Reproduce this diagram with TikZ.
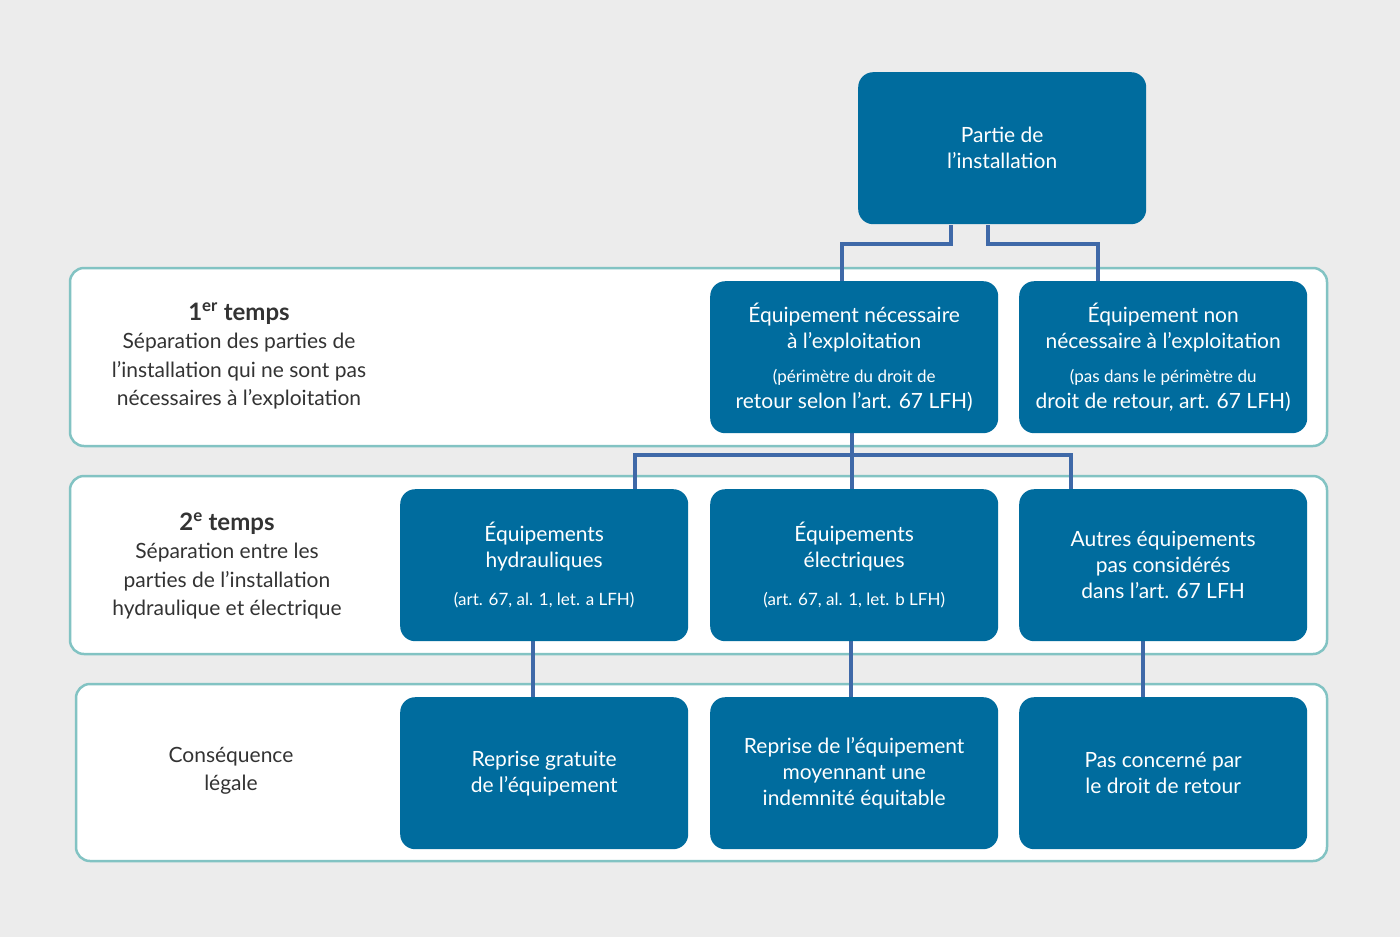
\documentclass[tikz,border=0pt]{standalone}
\usepackage{fontspec}
\setmainfont{Lato}
\begin{document}
\begin{tikzpicture}[x=1pt,y=-1pt,
  panel/.style={line width=2.5pt, fill=white, rounded corners=14pt},
  box/.style={fill=boxblue, rounded corners=15pt, minimum width=288pt, minimum height=152pt, anchor=north west, inner sep=0pt, text=white, align=center, font=\fontsize{21}{26}\selectfont},
  conn/.style={draw=connblue, line width=4pt},
  lbl/.style={align=center, text=black!80, font=\fontsize{21}{28.5}\selectfont}]
\definecolor{boxblue}{HTML}{006C9E}
\definecolor{connblue}{HTML}{3F69A8}
\definecolor{bg}{HTML}{ECECEC}
\definecolor{pborder}{HTML}{82C3C3}
\useasboundingbox[fill=bg] (0,0) rectangle (1400,937);
\draw[panel,draw=pborder] (70,268) rectangle (1327,446);
\draw[panel,draw=pborder] (70,476) rectangle (1327,654);
\draw[panel,draw=pborder] (76,684) rectangle (1327,861);
% connectors
\coordinate (t1) at (951,225); \coordinate (t2) at (988,225);
\coordinate (r1a) at (842,281); \coordinate (r1b) at (1098,281);
\draw[conn] (t1) |- (842,244) -- (r1a);
\draw[conn] (t2) |- (1098,244) -- (r1b);
\coordinate (m1) at (852,433);
\draw[conn] (m1) -- (852,489);
\draw[conn] (635,489) -- (635,455) -- (1071,455) -- (1071,489);
\coordinate (a1) at (533,641); \coordinate (a2) at (533,697);
\coordinate (b1) at (851,641); \coordinate (b2) at (851,697);
\coordinate (c1) at (1143,641); \coordinate (c2) at (1143,697);
\draw[conn] (a1) -- (a2); \draw[conn] (b1) -- (b2); \draw[conn] (c1) -- (c2);
% boxes
\node[box] (top) at (858,72) {Partie de\\l’installation};
\node[box] (e1) at (710,281) {Équipement nécessaire\\à l’exploitation\\[8pt]\fontsize{17}{22}\selectfont(périmètre du droit de\\retour selon l’art. 67 LFH)};
\node[box] (e2) at (1019,281) {Équipement non\\nécessaire à l’exploitation\\[8pt]\fontsize{17}{22}\selectfont(pas dans le périmètre du\\droit de retour, art. 67 LFH)};
\node[box] (h) at (400,489) {Équipements\\hydrauliques\\[12pt]\fontsize{17}{22}\selectfont(art. 67, al. 1, let. a LFH)};
\node[box] (el) at (710,489) {Équipements\\électriques\\[12pt]\fontsize{17}{22}\selectfont(art. 67, al. 1, let. b LFH)};
\node[box] (au) at (1019,489) {Autres équipements\\pas considérés\\dans l’art. 67 LFH};
\node[box] (c1n) at (400,697) {Reprise gratuite\\de l’équipement};
\node[box] (c2n) at (710,697) {Reprise de l’équipement\\moyennant une\\indemnité équitable};
\node[box] (c3n) at (1019,697) {Pas concerné par\\le droit de retour};
% left labels
\node[lbl] (l1) at (239,356) {\bfseries\fontsize{24}{28}\selectfont 1\textsuperscript{er} temps\\\mdseries\fontsize{21}{28.5}\selectfont Séparation des parties de\\l’installation qui ne sont pas\\nécessaires à l’exploitation};
\node[lbl] (l2) at (227,566) {\bfseries\fontsize{24}{28}\selectfont 2\textsuperscript{e} temps\\\mdseries\fontsize{21}{28.5}\selectfont Séparation entre les\\parties de l’installation\\hydraulique et électrique};
\node[lbl] (l3) at (231,771) {Conséquence\\légale};
\end{tikzpicture}
\end{document}
